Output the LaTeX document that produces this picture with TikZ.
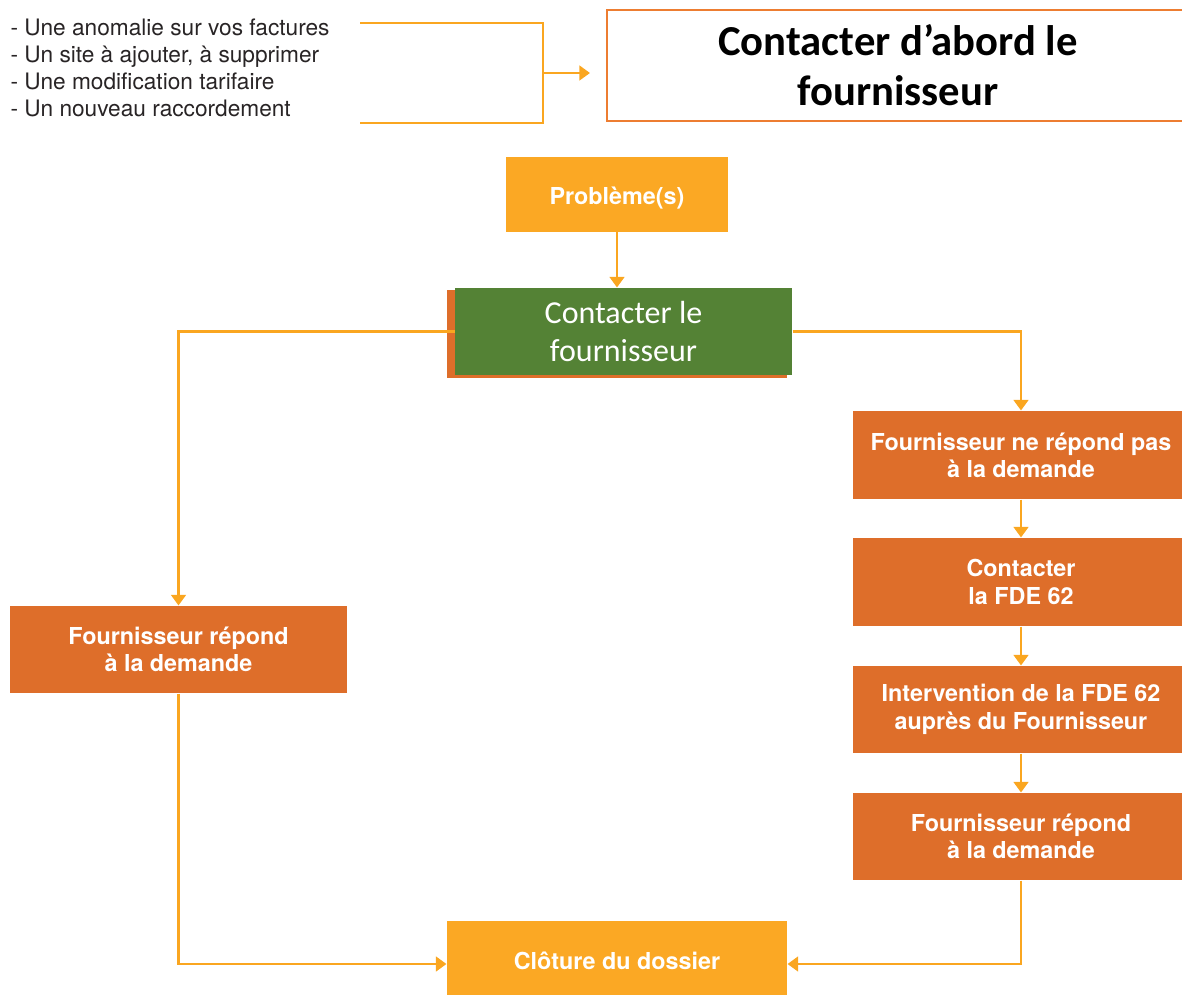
\documentclass[tikz,border=0pt]{standalone}
\usepackage{fontspec}
\setmainfont{TeX Gyre Heros}
\newfontfamily\calibri{Carlito}
\usetikzlibrary{arrows.meta}

\definecolor{lineorange}{RGB}{250,166,32}
\definecolor{boxyellow}{RGB}{251,168,36}
\definecolor{boxorange}{RGB}{222,110,42}
\definecolor{boxgreen}{RGB}{84,130,53}
\definecolor{frameorange}{RGB}{237,125,49}
\definecolor{listgray}{RGB}{40,36,37}

\tikzset{every picture/.style={line width=0.75pt}}
\tikzset{
	flow/.style={draw=lineorange, line width=2pt, -{Triangle[width=11pt,length=8pt]}},
	bracket/.style={draw=lineorange, line width=2pt},
	yellowbox/.style={fill=boxyellow, text=white, font=\fontsize{17.5}{20}\selectfont\bfseries, align=center, inner sep=0pt},
	orangebox/.style={fill=boxorange, text=white, font=\fontsize{17.5}{20.5}\selectfont\bfseries, align=center, inner sep=0pt, minimum width=252.75pt},
}

\begin{document}
\begin{tikzpicture}[x=0.75pt,y=0.75pt,yscale=-1,xscale=1]
	\useasboundingbox (0,0) rectangle (1182,995);

	% Text Node: list of problems
	\node (liste) [anchor=north west, align=left, text=listgray, inner sep=0pt, font=\fontsize{17}{20.25}\selectfont] at (10,18) {- Une anomalie sur vos factures\\- Un site à ajouter, à supprimer\\- Une modification tarifaire\\- Un nouveau raccordement};

	% Shape: top framed box
	\node (abord) [draw=frameorange, line width=1.8pt, minimum width=436.5pt, minimum height=83.25pt, align=center, inner sep=0pt, font=\calibri\fontsize{32}{37.5}\selectfont\bfseries] at (898,65.5) {Contacter d’abord le\\fournisseur};

	% Bracket
	\coordinate (bh) at (360,23);
	\coordinate (bb) at (360,123);
	\coordinate (bm) at (543,73);
	\draw [bracket] (bh) -- (543,23) -- (543,123) -- (bb);
	\draw [flow] (bm) -- (590,73);

	% Boxes
	\node (probleme) [yellowbox, minimum width=166.5pt, minimum height=56.25pt] at (617,194.5) {\raisebox{-3pt}[\height][\depth]{Problème(s)}};

	\fill [boxorange] (447,290) rectangle (787,378);
	\node (contact) [fill=boxgreen, text=white, minimum width=252.75pt, minimum height=65.25pt, align=center, inner sep=0pt, font=\calibri\fontsize{24}{28}\selectfont] at (623.5,331.5) {Contacter le\\fournisseur};

	\node (repondG) [orangebox, minimum height=65.25pt] at (178.5,649.5) {Fournisseur répond\\à la demande};

	\node (nerepond) [orangebox, minimum height=66pt] at (1021,455) {Fournisseur ne répond pas\\à la demande};
	\node (fde) [orangebox, minimum height=66pt] at (1021,582) {Contacter\\la FDE 62};
	\node (intervention) [orangebox, minimum height=65.25pt] at (1021,709.5) {Intervention de la FDE 62\\auprès du Fournisseur};
	\node (repondD) [orangebox, minimum height=65.25pt] at (1021,836.5) {Fournisseur répond\\à la demande};

	\node (cloture) [yellowbox, minimum width=255pt, minimum height=64.5pt] at (617,964) {\raisebox{2.5pt}[\height][\depth]{Clôture du dossier}};

	% Connectors
	\draw [flow] (probleme) -- (probleme |- contact.north);
	\draw [flow] (contact.west) -| (repondG.north);
	\draw [flow] (contact.east) -| (nerepond.north);
	\draw [flow] (nerepond) -- (fde);
	\draw [flow] (fde) -- (intervention);
	\draw [flow] (intervention) -- (repondD);
	\draw [flow] (repondG.south) |- (cloture.west);
	\draw [flow] (repondD.south) |- (cloture.east);

\end{tikzpicture}
\end{document}
